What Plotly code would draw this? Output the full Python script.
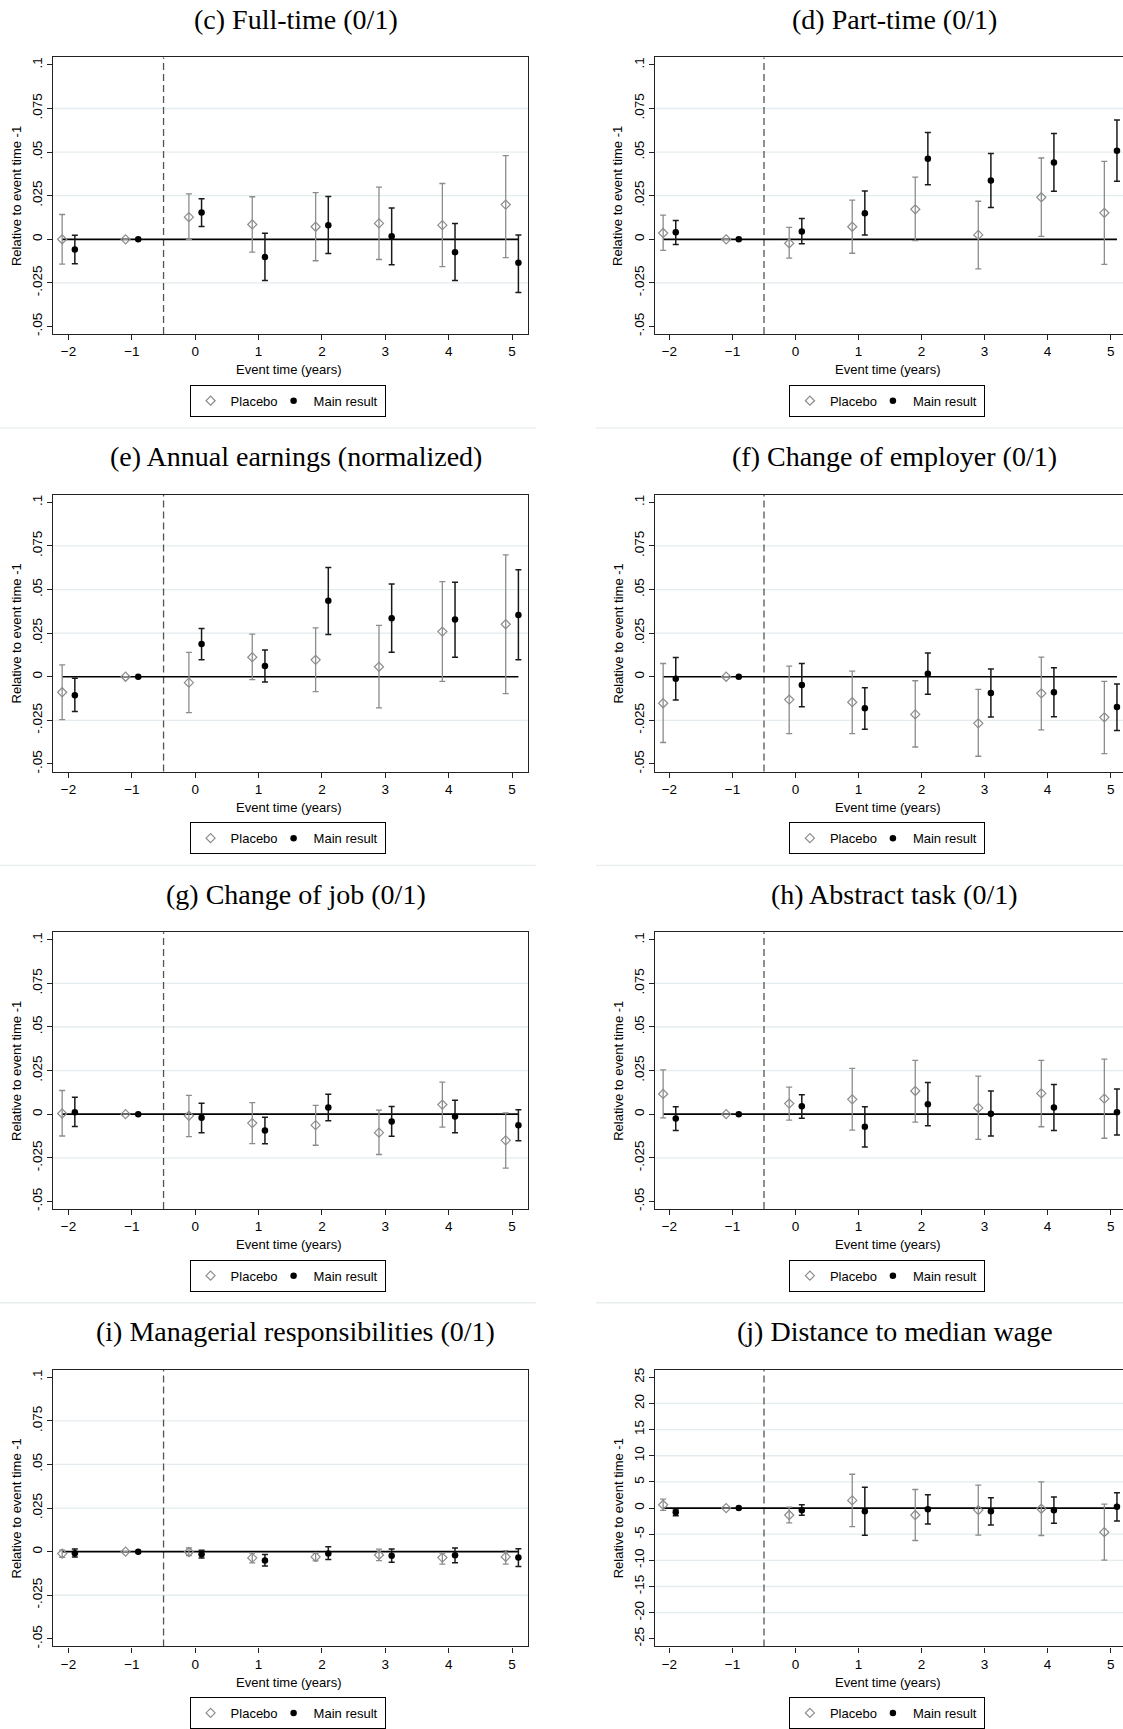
import plotly.graph_objects as go

event_time = [-2, -1, 0, 1, 2, 3, 4, 5]

# y ticks for the share outcomes and for the wage distance panel
share_ticks = [-0.05, -0.025, 0, 0.025, 0.05, 0.075, 0.1]
share_labels = ["-.05", "-.025", "0", ".025", ".05", ".075", ".1"]
wage_ticks = [-25, -20, -15, -10, -5, 0, 5, 10, 15, 20, 25]
wage_labels = ["-25", "-20", "-15", "-10", "-5", "0", "5", "10", "15", "20", "25"]

# (c) Full-time
ft_plc = [0.0, 0.0, 0.0127, 0.0085, 0.0072, 0.0091, 0.0081, 0.0199]
ft_plc_lo = [-0.0142, None, 0.0, -0.0074, -0.0123, -0.0116, -0.0157, -0.0105]
ft_plc_hi = [0.0142, None, 0.026, 0.0244, 0.0267, 0.0299, 0.032, 0.048]
ft_main = [-0.0059, 0.0, 0.0153, -0.0102, 0.0081, 0.0017, -0.0074, -0.0135]
ft_main_lo = [-0.014, None, 0.0074, -0.0237, -0.0081, -0.0146, -0.0237, -0.0305]
ft_main_hi = [0.0023, None, 0.0233, 0.0034, 0.0246, 0.018, 0.0091, 0.0024]

# (d) Part-time
pt_plc = [0.0036, 0.0, -0.0023, 0.0072, 0.0172, 0.0025, 0.0241, 0.0152]
pt_plc_lo = [-0.0064, None, -0.0108, -0.008, -0.0008, -0.017, 0.0017, -0.0144]
pt_plc_hi = [0.0138, None, 0.0068, 0.0225, 0.0356, 0.0218, 0.0466, 0.0447]
pt_main = [0.004, 0.0, 0.0045, 0.015, 0.0462, 0.0337, 0.0441, 0.0508]
pt_main_lo = [-0.003, None, -0.0025, 0.0025, 0.0313, 0.0182, 0.0275, 0.0333]
pt_main_hi = [0.0108, None, 0.0119, 0.0277, 0.0612, 0.0492, 0.0606, 0.0684]

# (e) Annual earnings
ae_plc = [-0.0089, 0.0, -0.0034, 0.0112, 0.0097, 0.0057, 0.0259, 0.0301]
ae_plc_lo = [-0.0246, None, -0.0206, -0.0017, -0.0085, -0.0178, -0.0027, -0.0097]
ae_plc_hi = [0.0068, None, 0.014, 0.0244, 0.028, 0.0295, 0.0545, 0.0699]
ae_main = [-0.0106, 0.0, 0.0188, 0.0061, 0.0436, 0.0335, 0.0328, 0.0354]
ae_main_lo = [-0.0199, None, 0.0097, -0.003, 0.0242, 0.014, 0.0112, 0.0097]
ae_main_hi = [-0.0008, None, 0.0277, 0.0153, 0.0627, 0.0532, 0.0542, 0.0614]

# (f) Change of employer
ce_plc = [-0.0152, 0.0, -0.0131, -0.0146, -0.0216, -0.0267, -0.0095, -0.0233]
ce_plc_lo = [-0.0377, None, -0.0326, -0.0326, -0.0403, -0.0456, -0.0305, -0.0441]
ce_plc_hi = [0.0076, None, 0.0061, 0.0032, -0.0023, -0.0072, 0.0112, -0.0027]
ce_main = [-0.0011, 0.0, -0.0047, -0.018, 0.0017, -0.0093, -0.0089, -0.0174]
ce_main_lo = [-0.0133, None, -0.0172, -0.0301, -0.01, -0.0231, -0.0229, -0.0309]
ce_main_hi = [0.011, None, 0.0076, -0.0063, 0.0136, 0.0045, 0.0051, -0.0042]

# (g) Change of job
cj_plc = [0.0004, 0.0, -0.0009, -0.0051, -0.0063, -0.0106, 0.0055, -0.015]
cj_plc_lo = [-0.0125, None, -0.0129, -0.0169, -0.0178, -0.0231, -0.0074, -0.0309]
cj_plc_hi = [0.0136, None, 0.0108, 0.0066, 0.0051, 0.0023, 0.0184, 0.0008]
cj_main = [0.0011, 0.0, -0.0021, -0.0093, 0.0038, -0.0042, -0.0013, -0.0064]
cj_main_lo = [-0.007, None, -0.0106, -0.017, -0.0038, -0.0127, -0.0106, -0.0152]
cj_main_hi = [0.0097, None, 0.0063, -0.0017, 0.0115, 0.0044, 0.008, 0.0025]

# (h) Abstract task
at_plc = [0.0116, 0.0, 0.0061, 0.0085, 0.0133, 0.0036, 0.0119, 0.0089]
at_plc_lo = [-0.0021, None, -0.0034, -0.0091, -0.0045, -0.0144, -0.0072, -0.0138]
at_plc_hi = [0.0254, None, 0.0155, 0.0263, 0.0309, 0.0218, 0.0309, 0.0316]
at_main = [-0.0025, 0.0, 0.0045, -0.0072, 0.0057, 0.0002, 0.0038, 0.0011]
at_main_lo = [-0.0093, None, -0.0023, -0.0188, -0.0066, -0.0125, -0.0093, -0.0119]
at_main_hi = [0.0042, None, 0.0112, 0.0042, 0.0182, 0.0133, 0.017, 0.0144]

# (i) Managerial responsibilities
mr_plc = [-0.0011, 0.0, -0.0002, -0.0036, -0.003, -0.0019, -0.0034, -0.003]
mr_plc_lo = [-0.0032, None, -0.0023, -0.0064, -0.0053, -0.0051, -0.0072, -0.0072]
mr_plc_hi = [0.0009, None, 0.0021, -0.0009, -0.0008, 0.0015, -0.0008, 0.0006]
mr_main = [-0.0009, 0.0, -0.0015, -0.0051, -0.0011, -0.0023, -0.0021, -0.0034]
mr_main_lo = [-0.003, None, -0.0036, -0.0083, -0.0045, -0.0061, -0.0064, -0.0085]
mr_main_hi = [0.0015, None, 0.0008, -0.0017, 0.0028, 0.0015, 0.0021, 0.0017]

# (j) Distance to median wage
dw_plc = [0.63, 0.0, -1.33, 1.46, -1.33, -0.38, -0.13, -4.62]
dw_plc_lo = [-0.44, None, -2.85, -3.54, -6.2, -5.19, -5.25, -9.94]
dw_plc_hi = [1.7, None, 0.19, 6.46, 3.54, 4.37, 5.0, 0.76]
dw_main = [-0.82, 0.0, -0.44, -0.63, -0.25, -0.63, -0.44, 0.25]
dw_main_lo = [-1.46, None, -1.39, -5.19, -3.04, -3.23, -2.91, -2.47]
dw_main_hi = [-0.38, None, 0.63, 3.99, 2.53, 1.96, 2.09, 2.91]

panels = [
    ("(c) Full-time (0/1)", share_ticks, share_labels, ft_plc, ft_plc_lo, ft_plc_hi, ft_main, ft_main_lo, ft_main_hi),
    ("(d) Part-time (0/1)", share_ticks, share_labels, pt_plc, pt_plc_lo, pt_plc_hi, pt_main, pt_main_lo, pt_main_hi),
    ("(e) Annual earnings (normalized)", share_ticks, share_labels, ae_plc, ae_plc_lo, ae_plc_hi, ae_main, ae_main_lo, ae_main_hi),
    ("(f) Change of employer (0/1)", share_ticks, share_labels, ce_plc, ce_plc_lo, ce_plc_hi, ce_main, ce_main_lo, ce_main_hi),
    ("(g) Change of job (0/1)", share_ticks, share_labels, cj_plc, cj_plc_lo, cj_plc_hi, cj_main, cj_main_lo, cj_main_hi),
    ("(h) Abstract task (0/1)", share_ticks, share_labels, at_plc, at_plc_lo, at_plc_hi, at_main, at_main_lo, at_main_hi),
    ("(i) Managerial responsibilities (0/1)", share_ticks, share_labels, mr_plc, mr_plc_lo, mr_plc_hi, mr_main, mr_main_lo, mr_main_hi),
    ("(j) Distance to median wage", wage_ticks, wage_labels, dw_plc, dw_plc_lo, dw_plc_hi, dw_main, dw_main_lo, dw_main_hi),
]

W, H = 1123, 1729
ROW_STEP = 440
TOP0, FRAME_H = 55.7, 278.3
# pixel frame edges and x range for left / right column (right one runs off the page)
COLS = [(53.3, 527.9, [-2.24, 5.25]), (655.2, 1123.0, [-2.226, 5.196])]
SANS = "Liberation Sans"
SERIF = "Liberation Serif"
GREY = "#8c8c8c"
GRID = "#e4ecef"


def px_x(v):
    return v / W


def px_y(v):
    return 1 - v / H


def err(vals, lo, hi):
    plus = [None if h is None else h - v for v, h in zip(vals, hi)]
    minus = [None if l is None else v - l for v, l in zip(vals, lo)]
    return plus, minus


fig = go.Figure()
shapes, annotations, layout_axes = [], [], {}

for k, (title, ticks, ticktext, plc, plc_lo, plc_hi, main, main_lo, main_hi) in enumerate(panels):
    row, col = divmod(k, 2)
    n = k + 1
    sfx = "" if n == 1 else str(n)
    xref, yref = "x" + sfx, "y" + sfx
    leg = "legend" + sfx
    left, right, xr = COLS[col]
    top = TOP0 + row * ROW_STEP
    bottom = top + FRAME_H
    span = ticks[-1] - ticks[0]
    yr = [ticks[0] - 0.029 * span, ticks[-1] + 0.0287 * span]
    center = (left + right) / 2 if col == 0 else (left + 1124.6) / 2

    layout_axes["xaxis" + sfx] = dict(
        domain=[px_x(left), px_x(right)], anchor=yref, range=xr,
        tickvals=event_time, ticks="outside", ticklen=5, tickcolor="#222",
        showline=True, linecolor="#222", linewidth=1.3, mirror=True,
        showgrid=False, zeroline=False,
        tickfont=dict(family=SANS, size=13.5, color="black"),
    )
    layout_axes["yaxis" + sfx] = dict(
        domain=[px_y(bottom), px_y(top)], anchor=xref, range=yr,
        tickvals=ticks, ticktext=ticktext, tickangle=-90,
        ticks="outside", ticklen=5, tickcolor="#222",
        showline=True, linecolor="#222", linewidth=1.3, mirror=(col == 0),
        showgrid=False, zeroline=False,
        tickfont=dict(family=SANS, size=13.5, color="black"),
    )

    # light horizontal grid on the inner ticks
    for v in ticks[1:-1]:
        if v == 0:
            continue
        shapes.append(dict(type="line", xref=xref + " domain", yref=yref, x0=0, x1=1,
                           y0=v, y1=v, line=dict(color=GRID, width=1.3), layer="below"))
    # treatment marker between -1 and 0
    shapes.append(dict(type="line", xref=xref, yref=yref + " domain", x0=-0.5, x1=-0.5,
                       y0=0, y1=1, line=dict(color="#555", width=1.3, dash="7px,4px"),
                       layer="below"))

    fig.add_trace(go.Scatter(
        x=[event_time[0] - 0.1, event_time[-1] + 0.1], y=[0, 0], mode="lines",
        line=dict(color="black", width=1.7), xaxis=xref, yaxis=yref,
        showlegend=False, hoverinfo="skip",
    ))
    p_plus, p_minus = err(plc, plc_lo, plc_hi)
    fig.add_trace(go.Scatter(
        x=[t - 0.1 for t in event_time], y=plc, mode="markers", name="Placebo",
        marker=dict(symbol="diamond-open", size=7, color=GREY, line=dict(width=1.2, color=GREY)),
        error_y=dict(type="data", symmetric=False, array=p_plus, arrayminus=p_minus,
                     color=GREY, thickness=1.3, width=3),
        xaxis=xref, yaxis=yref, legend=leg, legendwidth=38,
    ))
    m_plus, m_minus = err(main, main_lo, main_hi)
    fig.add_trace(go.Scatter(
        x=[t + 0.1 for t in event_time], y=main, mode="markers", name="Main result",
        marker=dict(symbol="circle", size=6.5, color="black"),
        error_y=dict(type="data", symmetric=False, array=m_plus, arrayminus=m_minus,
                     color="#1a1a1a", thickness=1.5, width=3),
        xaxis=xref, yaxis=yref, legend=leg, legendwidth=66,
    ))

    layout_axes[leg] = dict(
        x=px_x(center - 3), y=px_y(top - 55.7 + 385), xanchor="center", yanchor="top",
        orientation="h", bordercolor="black", borderwidth=1, bgcolor="white",
        font=dict(family=SANS, size=13, color="black"), itemwidth=30,
        tracegroupgap=0, itemclick=False,
    )

    annotations.append(dict(text=title, xref="paper", yref="paper",
                            x=px_x(center + 5), y=px_y(top - 55.7 + 17.5),
                            xanchor="center", yanchor="middle", showarrow=False,
                            font=dict(family=SERIF, size=28, color="black")))
    annotations.append(dict(text="Event time (years)", xref="paper", yref="paper",
                            x=px_x(center - 2), y=px_y(bottom + 36), xanchor="center",
                            yanchor="middle", showarrow=False,
                            font=dict(family=SANS, size=13, color="black")))
    annotations.append(dict(text="Relative to event time -1", xref="paper", yref="paper",
                            x=px_x(left - 37), y=px_y((top + bottom) / 2), textangle=-90,
                            xanchor="center", yanchor="middle", showarrow=False,
                            font=dict(family=SANS, size=13, color="black")))

# faint outlines separating the rows of graphs
for r in range(3):
    yy = px_y(428.3 + r * ROW_STEP)
    shapes.append(dict(type="line", xref="paper", yref="paper", x0=0, x1=px_x(536),
                       y0=yy, y1=yy, line=dict(color="#e8eef0", width=1.3)))
    shapes.append(dict(type="line", xref="paper", yref="paper", x0=px_x(596), x1=1,
                       y0=yy, y1=yy, line=dict(color="#e8eef0", width=1.3)))

fig.update_layout(
    width=W, height=H,
    margin=dict(l=0, r=0, t=0, b=0),
    paper_bgcolor="white", plot_bgcolor="white",
    shapes=shapes, annotations=annotations,
    **layout_axes,
)

# drop the default page margin so the figure fills the window exactly
fig.write_html(
    "out.html",
    config={"displayModeBar": False},
    post_script="document.body.style.margin='0';document.body.style.overflow='hidden';",
)
